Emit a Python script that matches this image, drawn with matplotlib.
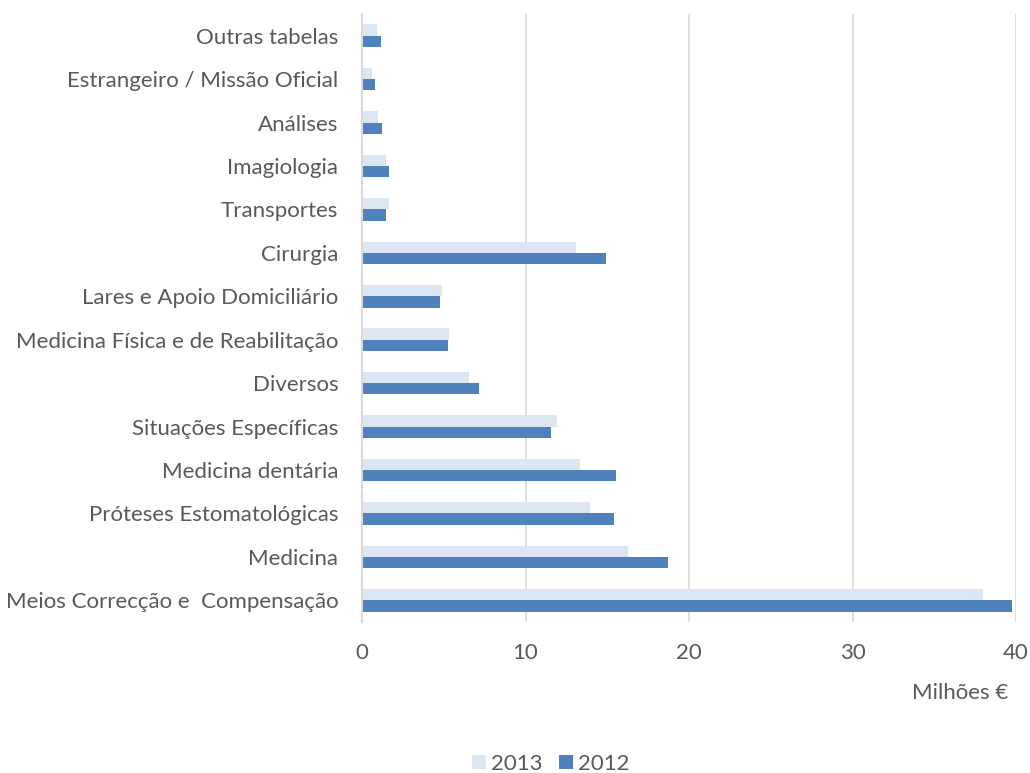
import matplotlib
matplotlib.use("Agg")
import matplotlib.pyplot as plt
import numpy as np

plt.rcParams['font.family'] = ['Lato', 'DejaVu Sans']

# categories top to bottom as shown
categories = [
    "Outras tabelas",
    "Estrangeiro / Missão Oficial",
    "Análises",
    "Imagiologia",
    "Transportes",
    "Cirurgia",
    "Lares e Apoio Domiciliário",
    "Medicina Física e de Reabilitação",
    "Diversos",
    "Situações Específicas",
    "Medicina dentária",
    "Próteses Estomatológicas",
    "Medicina",
    "Meios Correcção e  Compensação",
]
vals_2013 = [0.92, 0.59, 0.96, 1.47, 1.63, 13.09, 4.87, 5.34, 6.56, 11.93, 13.31, 13.94, 16.29, 38.0]
vals_2012 = [1.14, 0.78, 1.24, 1.65, 1.47, 14.92, 4.79, 5.28, 7.16, 11.58, 15.56, 15.41, 18.72, 39.74]

c2013 = "#DCE6F2"
c2012 = "#4F81BD"
grey = "#595959"
fs = 16

fig = plt.figure(figsize=(10.30, 7.73), dpi=100)
ax = fig.add_axes([362 / 1030, 1 - 622 / 773, (1016 - 362) / 1030, (622 - 14) / 773])

y = np.arange(len(categories))
h = 0.26
ax.barh(y - h / 2, vals_2013, height=h, color=c2013, label="2013", zorder=3)
ax.barh(y + h / 2, vals_2012, height=h, color=c2012, label="2012", zorder=3)

ax.set_xlim(0, 40)
ax.set_ylim(len(categories) - 0.5, -0.5)
ax.set_xticks([0, 10, 20, 30, 40])
ax.set_yticks(y)
ax.set_yticklabels(categories)
ax.tick_params(axis='both', length=0, labelsize=fs, colors=grey)
ax.tick_params(axis='y', pad=17)
ax.tick_params(axis='x', pad=15)
ax.xaxis.grid(True, color="#D9D9D9", linewidth=1.2, zorder=0)
for s in ["top", "right", "bottom"]:
    ax.spines[s].set_visible(False)
ax.spines["left"].set_color("#D9D9D9")
ax.spines["left"].set_linewidth(1.5)
ax.spines["left"].set_zorder(4)

fig.text(1008 / 1030, 1 - 693 / 773, "Milhões €", ha="right", va="center", fontsize=fs, color=grey)

ax.legend(loc="center", bbox_to_anchor=(551 / 1030, 1 - 764 / 773), bbox_transform=fig.transFigure,
          ncol=2, frameon=False, fontsize=fs, labelcolor=grey, handlelength=0.6,
          handleheight=0.6, columnspacing=0.75, handletextpad=0.25)

fig.savefig("out.png", dpi=100)
